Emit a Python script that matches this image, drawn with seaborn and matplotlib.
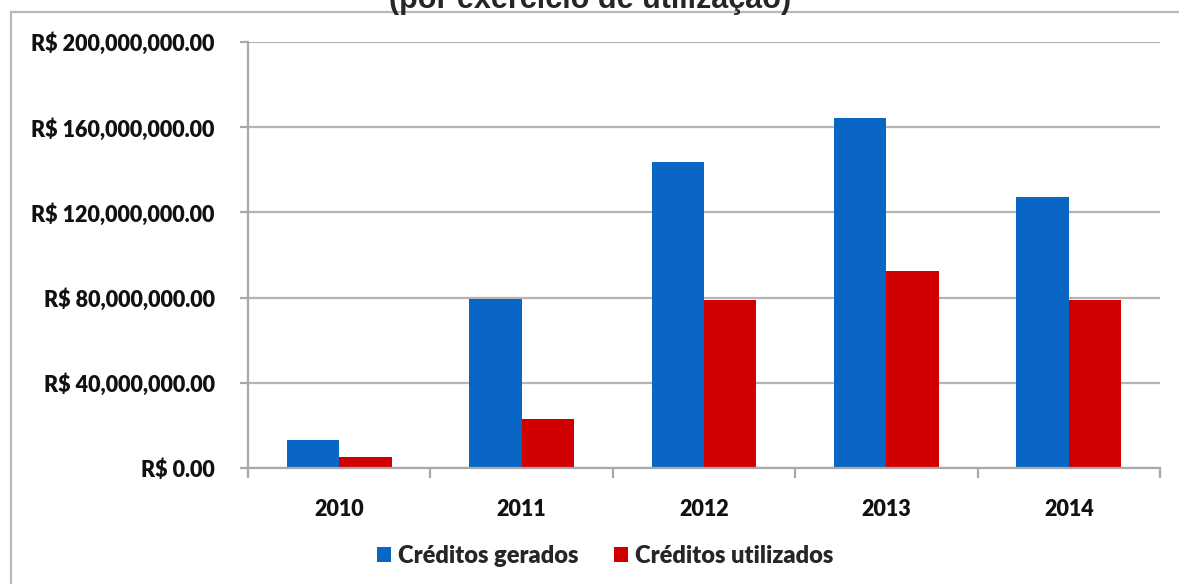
import matplotlib
matplotlib.use("Agg")
import matplotlib.pyplot as plt
from matplotlib.patches import Rectangle
from matplotlib.ticker import FuncFormatter, FixedLocator
import pandas as pd
import seaborn as sns

anos = ["2010", "2011", "2012", "2013", "2014"]
gerados = [13.1e6, 79.3e6, 143.7e6, 164.3e6, 127.2e6]
utilizados = [5.2e6, 23.0e6, 78.9e6, 92.5e6, 78.9e6]
series = ["Créditos gerados", "Créditos utilizados"]
cores = ["#0A66C4", "#D00000"]

df = pd.DataFrame({
    "ano": anos * 2,
    "valor": gerados + utilizados,
    "serie": [series[0]] * len(anos) + [series[1]] * len(anos),
})

sns.set_style("white")
plt.rcParams["font.family"] = ["Lato", "DejaVu Sans"]
plt.rcParams["font.weight"] = "heavy"

fig = plt.figure(figsize=(11.79, 5.84), dpi=100)
ax = fig.add_axes([248 / 1179, 1 - 468 / 584, (1160 - 248) / 1179, (468 - 42) / 584])

sns.barplot(data=df, x="ano", y="valor", hue="serie", palette=cores,
            width=0.575, saturation=1, linewidth=0, ax=ax, legend=True)

ax.set_ylim(0, 200e6)
ax.set_xlim(-0.5, 4.5)
ax.set_yticks([0, 40e6, 80e6, 120e6, 160e6, 200e6])
ax.yaxis.set_major_formatter(FuncFormatter(lambda v, p: "R$ {:,.2f}".format(v)))
ax.set_xlabel("")
ax.set_ylabel("")
ax.grid(axis="y", color="#B4B4B4", linewidth=1.6)
ax.set_axisbelow(True)
for s in ["top", "right"]:
    ax.spines[s].set_visible(False)
for s in ["left", "bottom"]:
    ax.spines[s].set_color("#A8A8A8")
    ax.spines[s].set_linewidth(1.6)

ax.tick_params(axis="y", left=True, length=6, width=1.6, color="#A8A8A8",
               labelsize=15.5, pad=18)
ax.tick_params(axis="x", which="major", length=0, labelsize=15.5, pad=22)
ax.xaxis.set_minor_locator(FixedLocator([-0.5, 0.5, 1.5, 2.5, 3.5, 4.5]))
ax.tick_params(axis="x", which="minor", bottom=True, length=7, width=1.6,
               color="#A8A8A8")
for lbl in ax.get_xticklabels() + ax.get_yticklabels():
    lbl.set_fontweight("heavy")
    lbl.set_color("#111111")

ax.legend(loc="center", bbox_to_anchor=(605 / 1179, 1 - 556 / 584),
          bbox_transform=fig.transFigure, ncol=2, frameon=False,
          prop={"size": 17, "weight": "heavy"}, handlelength=0.6,
          handleheight=0.6, handletextpad=0.3, columnspacing=1.5)

# chart area border (cut off at right and bottom)
fig.patches.append(Rectangle((11 / 1179, -0.1), 1.2, 1 - 12 / 584 + 0.1,
                             transform=fig.transFigure, fill=False,
                             edgecolor="#B8B8B8", linewidth=1.6))

fig.text(590 / 1179, 1 - 8 / 584, "(por exercício de utilização)",
         ha="center", va="baseline", fontsize=22, fontweight="bold",
         family=["Liberation Sans", "DejaVu Sans"])

fig.savefig("out.png", dpi=100)
